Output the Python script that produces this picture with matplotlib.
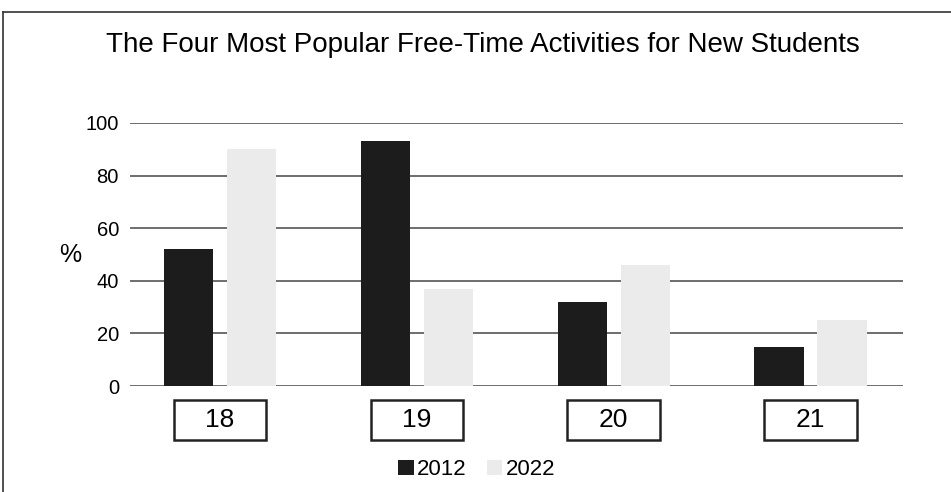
import matplotlib.pyplot as plt
from matplotlib.patches import Rectangle
from matplotlib.lines import Line2D
import numpy as np

plt.rcParams['font.family'] = ['Liberation Sans', 'DejaVu Sans']

ages = ['18', '19', '20', '21']
y2012 = [52, 93, 32, 15]
y2022 = [90, 37, 46, 25]
yticks = [0, 20, 40, 60, 80, 100]

fig = plt.figure(figsize=(9.51, 4.92), dpi=100)
ax = fig.add_axes([0.1367, 0.2154, 0.8128, 0.5346])

x = np.arange(len(ages))
w = 0.25
off = 0.16
b1 = ax.bar(x - off, y2012, w, color='#1c1c1c', label='2012', zorder=3)
b2 = ax.bar(x + off, y2022, w, color='#ebebeb', label='2022', zorder=3)

ax.set_xlim(-0.457, 3.47)
ax.set_ylim(0, 100)
ax.set_yticks(yticks)
ax.set_yticklabels([str(t) for t in yticks], fontsize=14.5)
ax.tick_params(axis='y', length=0, pad=8)
ax.set_xticks([])
for t in yticks:
    ax.axhline(t, color='#555555', lw=1.2, zorder=1)
for s in ax.spines.values():
    s.set_visible(False)

ax.text(-0.078, 0.5, '%', transform=ax.transAxes, fontsize=18, va='center', ha='center')

# boxed category labels
trans = ax.get_xaxis_transform()
for i, a in enumerate(ages):
    ax.add_patch(Rectangle((i - 0.235, -0.205), 0.47, 0.152, transform=trans,
                           fill=False, lw=1.8, ec='#222222', clip_on=False))
    ax.text(i, -0.129, a, transform=trans, ha='center', va='center', fontsize=19)

fig.text(0.508, 0.908, 'The Four Most Popular Free-Time Activities for New Students',
         ha='center', va='center', fontsize=20)

fig.legend(handles=[b1, b2], loc='center', bbox_to_anchor=(0.501, 0.045), ncol=2,
           frameon=False, fontsize=16, handlelength=0.7, handleheight=0.7,
           handletextpad=0.15, columnspacing=0.9)

# partial frame (top and left)
fig.add_artist(Line2D([0.003, 1.0], [0.976, 0.976], color='#333333', lw=1.2))
fig.add_artist(Line2D([0.003, 0.003], [0.0, 0.976], color='#333333', lw=1.2))

fig.savefig('out.png', dpi=100)
